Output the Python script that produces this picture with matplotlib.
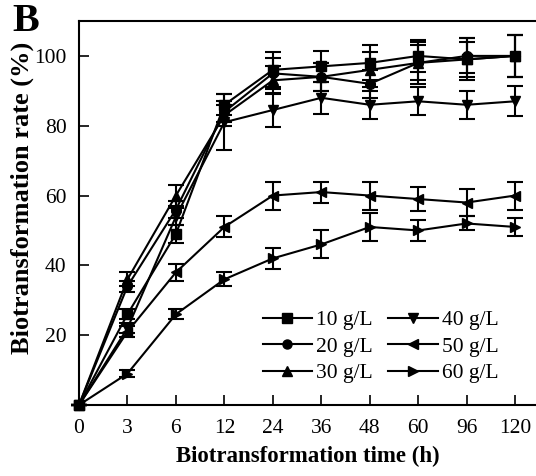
import matplotlib
matplotlib.use("Agg")
import matplotlib.pyplot as plt
from matplotlib.lines import Line2D
import numpy as np

plt.rcParams['font.family'] = ['Liberation Serif', 'DejaVu Serif']

# temps d'échantillonnage (h), positions équidistantes
time_labels = ["0", "3", "6", "12", "24", "36", "48", "60", "96", "120"]

conc_labels = ["10 g/L", "20 g/L", "30 g/L", "40 g/L", "50 g/L", "60 g/L"]
markers = ["s", "o", "^", "v", "<", ">"]

rate_10 = [0, 26, 49, 86, 96, 97, 98, 100, 99, 100]
rate_20 = [0, 34, 56, 84, 95, 94, 92, 98, 100, 100]
rate_30 = [0, 36, 60, 83, 93, 94, 96, 98, 99, 100]
rate_40 = [0, 22, 54, 81, 84.5, 88, 86, 87, 86, 87]
rate_50 = [0, 21, 38, 51, 60, 61, 60, 59, 58, 60]
rate_60 = [0, 9, 26, 36, 42, 46, 51, 50, 52, 51]

err_10 = [0, 1.5, 2.5, 3, 5, 4.5, 5, 4.5, 5, 6]
err_20 = [0, 1.5, 2.5, 3, 4.5, 4, 4, 5, 5, 6]
err_30 = [0, 2, 3, 3, 4, 4, 5, 6, 6, 6]
err_40 = [0, 1.5, 2.5, 8, 5, 4.5, 4, 4, 4, 4.3]
err_50 = [0, 1.5, 2.5, 3, 4, 3, 4, 3.5, 4, 4]
err_60 = [0, 1, 1.5, 2, 3, 4, 4, 3, 2, 2.5]

rates = [rate_10, rate_20, rate_30, rate_40, rate_50, rate_60]
errs = [err_10, err_20, err_30, err_40, err_50, err_60]

fig = plt.figure(figsize=(5.36, 4.76), dpi=100)
ax = fig.add_axes([79/536, 1-405/476, 1-79/536, (405-21)/476])

x = np.arange(len(time_labels))
for r, e, m in zip(rates, errs, markers):
    ax.errorbar(x, r, yerr=e, color='black', marker=m, markersize=7,
                linewidth=1.5, elinewidth=1.5, capsize=6, capthick=1.5,
                clip_on=False, zorder=3)

ax.set_xlim(0, 9.43)
ax.set_ylim(0, 110)
ax.set_xticks(x)
ax.set_xticklabels(time_labels)
ax.set_yticks([20, 40, 60, 80, 100])
ax.tick_params(direction='in', length=7, width=1.2, labelsize=15.5)
ax.tick_params(axis='x', pad=10)
ax.tick_params(axis='y', pad=9)
ax.spines['right'].set_visible(False)
for s in ['left', 'bottom', 'top']:
    ax.spines[s].set_linewidth(1.5)

ax.set_xlabel("Biotransformation time (h)", fontsize=16.5, fontweight='bold', labelpad=6)
ax.set_ylabel("Biotransformation rate (%)", fontsize=19, fontweight='bold')
ax.yaxis.set_label_coords(-0.098, 0.54)

handles = [Line2D([], [], color='black', marker=m, markersize=6.5, linewidth=1.5)
           for m in markers]
ax.legend(handles, conc_labels, ncol=2, loc='upper left', bbox_to_anchor=(0.378, 0.275),
          frameon=False, fontsize=15.5, handlelength=2.3, handletextpad=0.2,
          columnspacing=0.7, labelspacing=0.3, borderpad=0)

fig.text(12/536, 1-3/476, "B", fontsize=29, fontweight='bold', va='top', ha='left')

fig.savefig("out.png", dpi=100)
